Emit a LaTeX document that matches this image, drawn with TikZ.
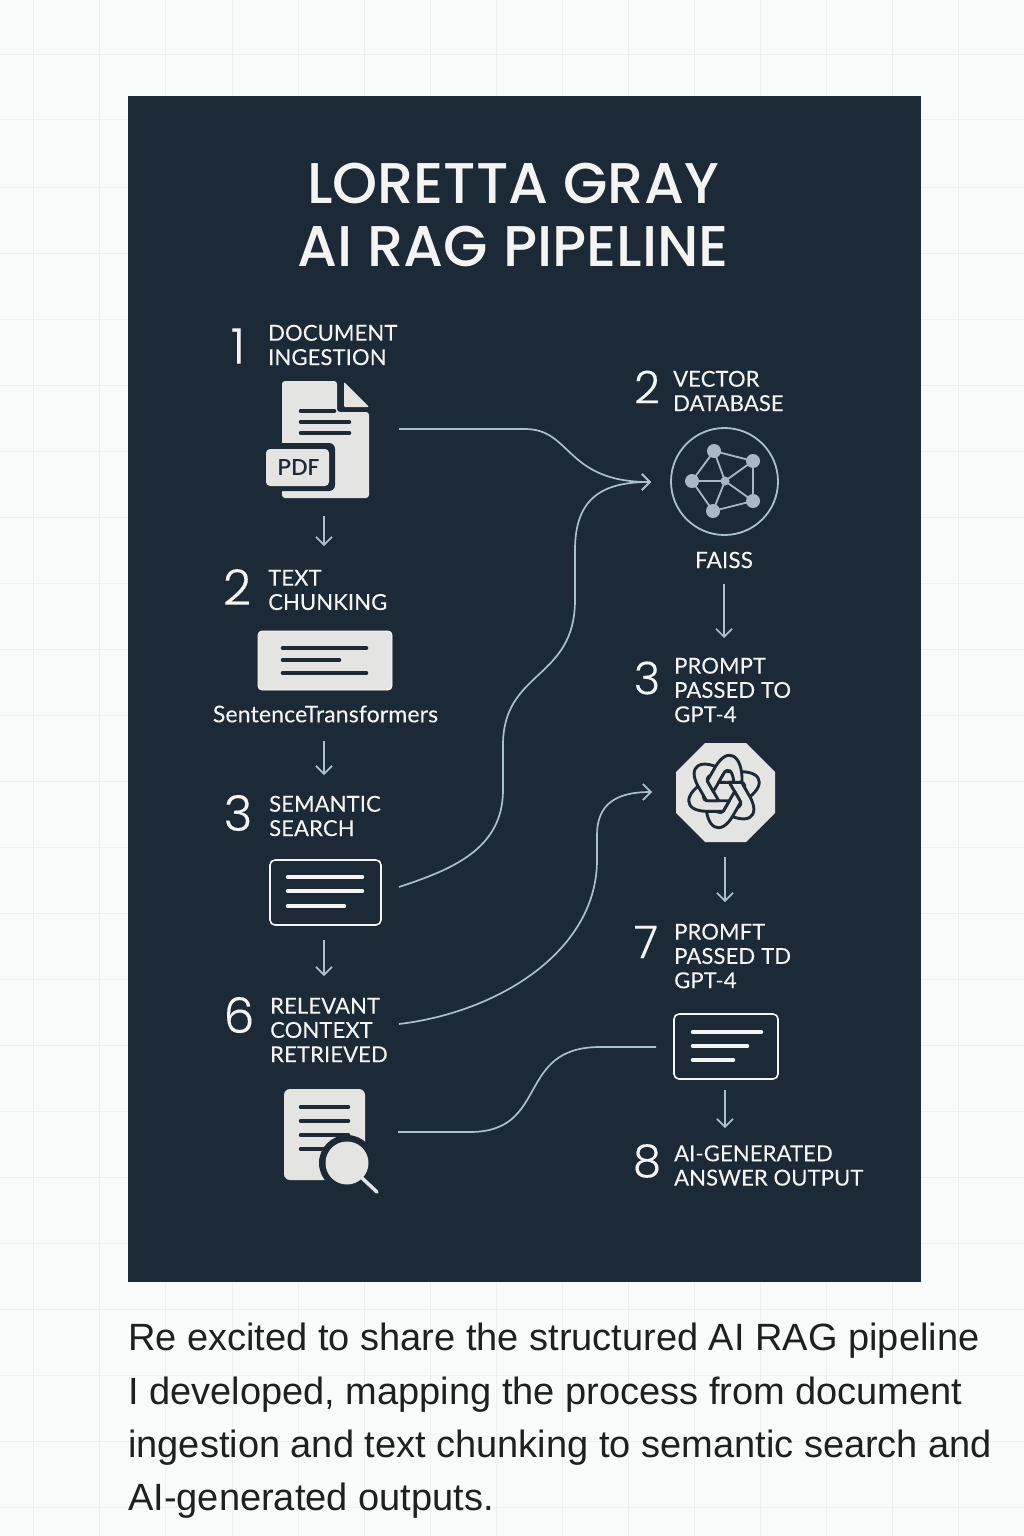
\documentclass[tikz,border=0pt]{standalone}
\usepackage{fontspec}
\setmainfont{Liberation Sans}
\newfontfamily\labelfont[FakeBold=0.12,LetterSpace=0.6]{Lato}
\newfontfamily\titlefont[UprightFont={* Medium}]{Poppins}
\newfontfamily\numfont[UprightFont={* Light},FakeBold=0.2]{Poppins}
\usetikzlibrary{positioning,calc,arrows.meta}
\definecolor{panel}{HTML}{1C2936}
\definecolor{paper}{HTML}{F9FAFA}
\definecolor{gridline}{HTML}{EEF0F0}
\definecolor{sheet}{HTML}{E4E4E3}
\definecolor{wire}{HTML}{A9BFD2}
\definecolor{dot}{HTML}{A9B8C4}
\definecolor{ink}{HTML}{F4F4F3}
\tikzset{>={Straight Barb[length=8pt,width=16pt]}}
\tikzset{
  wirearrow/.style={->,wire,line width=1.7pt},
  wireline/.style={wire,line width=1.7pt},
  stepnum/.style={text=ink,font=\numfont\fontsize{49}{49}\selectfont,inner sep=0pt},
  rightnum/.style={text=ink,font=\numfont\fontsize{45}{45}\selectfont,inner sep=0pt},
  steptext/.style={text=ink,font=\labelfont\fontsize{22}{24.3}\selectfont,align=left,anchor=west,inner sep=0pt},
  barline/.style={line width=4.6pt,line cap=round},
  hubline/.style={dot,line width=1.8pt},
  knotlink/.style={panel,fill=sheet,line width=2.9pt,line join=round},
}
\newcommand{\knotband}{(-4.5,-7.8) -- (0.7,-16.8) -- (14,-16.8) .. controls (35,-16.8) and (35,-2) .. (15,9) -- (9.5,4.5) .. controls (20,-3) and (20,-7.8) .. (12,-7.8) -- cycle}
\begin{document}
\begin{tikzpicture}[x=1pt,y=-1pt]
\useasboundingbox (0,0) rectangle (1024,1536);
\fill[paper] (0,0) rectangle (1024,1536);
\foreach \gx in {33,99,165,232,298,364,430,496,562,628,694,760,826,892,958}
  \draw[gridline,line width=1pt] (\gx,0) -- (\gx,1536);
\foreach \gy in {55,120,187,253,319,385,451,517,583,649,715,781,847,913,979,1045,1111,1177,1243,1309,1375,1441,1507}
  \draw[gridline,line width=1pt] (0,\gy) -- (1024,\gy);
\fill[panel] (128,96) rectangle (921,1282);
% title
\node[text=ink,font=\titlefont\fontsize{57.4}{63}\selectfont,align=center,inner sep=0pt] (title) at (513,215) {LORETTA GRAY\\AI RAG PIPELINE};
% left column
\node[stepnum] (numA) at (238,346) {1};
\node[steptext] (textA) at (268,345) {DOCUMENT\\INGESTION};
\node[stepnum] (numB) at (237,587) {2};
\node[steptext] (textB) at (268,590) {TEXT\\CHUNKING};
\node[stepnum] (numC) at (238,813) {3};
\node[steptext] (textC) at (269,816) {SEMANTIC\\SEARCH};
\node[stepnum] (numF) at (239,1015) {6};
\node[steptext] (textF) at (270,1030) {RELEVANT\\CONTEXT\\RETRIEVED};
% pdf icon
\fill[sheet,rounded corners=3pt] (282,381) -- (337,381) -- (337,412) -- (369,412) -- (369,498) -- (282,498) -- cycle;
\fill[sheet,rounded corners=1pt] (344,382) -- (369,407) -- (344,407) -- cycle;
\draw[panel,barline] (301,411) -- (334,411);
\draw[panel,barline] (301,422) -- (349,422);
\draw[panel,barline] (301,433) -- (349,433);
\fill[panel,rounded corners=6pt] (261,443) rectangle (335,491);
\fill[sheet,rounded corners=4pt] (266,449) rectangle (329,486);
\node[text=panel,font=\titlefont\fontsize{23}{24}\selectfont,inner sep=0pt] (pdf) at (298.5,468) {PDF};
% chunk card
\node[fill=sheet,draw=white,line width=.8pt,rounded corners=4pt,minimum width=134pt,minimum height=59pt,inner sep=0pt] (cardB) at (325,660.5) {};
\draw[panel,barline] (283,648) -- (366,648);
\draw[panel,barline] (283,660) -- (339,660);
\draw[panel,barline] (283,673) -- (366,673);
\node[text=ink,font=\labelfont\fontsize{23}{24}\selectfont,inner sep=0pt] (sent) at (325.5,714) {SentenceTransformers};
% search box
\node[draw=ink,fill=panel,line width=1.6pt,rounded corners=5pt,minimum width=111pt,minimum height=65pt,inner sep=0pt] (boxC) at (325.5,892.5) {};
\draw[ink,barline] (288,877) -- (362,877);
\draw[ink,barline] (288,891) -- (362,891);
\draw[ink,barline] (288,906) -- (344,906);
% retrieved icon
\fill[sheet,rounded corners=6pt] (284,1089) rectangle (365,1180);
\foreach \by/\bx in {1107/348,1121/348,1135/348,1149/330}
  \draw[panel,barline] (301,\by) -- (\bx,\by);
\fill[panel] (347,1163) circle[radius=28];
\fill[sheet] (347,1163) circle[radius=21.5];
\draw[sheet,line width=3.5pt,line cap=round] (362,1178) -- (377,1192);
% left arrows
\coordinate (dA) at (324,516); \coordinate (dAe) at (324,546);
\coordinate (dB) at (324,741); \coordinate (dBe) at (324,775);
\coordinate (dC) at (324,940); \coordinate (dCe) at (324,976);
\draw[wirearrow] (dA) -- (dAe);
\draw[wirearrow] (dB) -- (dBe);
\draw[wirearrow] (dC) -- (dCe);
% right column
\node[rightnum] (numR) at (647,387) {2};
\node[steptext] (textR) at (673,391) {VECTOR\\DATABASE};
\node[draw=wire,line width=1.8pt,circle,minimum size=107pt,inner sep=0pt] (faissring) at (724.5,481.5) {};
\coordinate (na) at (714,451);
\coordinate (nb) at (753,461);
\coordinate (nc) at (692,481);
\coordinate (nd) at (725,481);
\coordinate (ne) at (753,501);
\coordinate (nf) at (713,511);
\draw[hubline] (na) -- (nb) -- (ne) -- (nf) -- (nc) -- (na);
\draw[hubline] (na) -- (nd) -- (nb);
\draw[hubline] (nc) -- (nd) -- (ne);
\draw[hubline] (nd) -- (nf);
\foreach \hub in {na,nb,nc,ne,nf}
  \fill[dot] (\hub) circle[radius=7];
\fill[dot] (nd) circle[radius=4.5];
\node[text=ink,font=\labelfont\fontsize{22.5}{24}\selectfont,inner sep=0pt] (faiss) at (724,560) {FAISS};
\node[rightnum] (numP) at (647,678) {3};
\node[steptext] (textP) at (674,690) {PROMPT\\PASSED TO\\GPT-4};
% octagon
\fill[sheet] (705,743) -- (746,743) -- (775,772) -- (775,813) -- (746,842) -- (705,842) -- (676,813) -- (676,772) -- cycle;
\begin{scope}[shift={(724,791.5)},scale=1.18]
\foreach \ang in {0,-60,...,-300}
  \draw[knotlink,rotate=\ang] \knotband;
\foreach \ang in {-60,0} {
  \begin{scope}[rotate=\ang]
  \clip (-20,-30) rectangle (2,14);
  \draw[knotlink] \knotband;
  \end{scope}
}
\end{scope}
\node[rightnum] (numS) at (646,942) {7};
\node[steptext] (textS) at (674,956) {PROMFT\\PASSED\hspace{6pt}TD\\GPT-4};
\node[draw=ink,fill=panel,line width=1.6pt,rounded corners=5pt,minimum width=104pt,minimum height=65pt,inner sep=0pt] (boxS) at (726,1046.5) {};
\draw[ink,barline] (693,1032) -- (761,1032);
\draw[ink,barline] (693,1046) -- (747,1046);
\draw[ink,barline] (693,1060) -- (733,1060);
\node[rightnum] (numE) at (647,1161) {8};
\node[steptext] (textE) at (674,1165.5) {AI-GENERATED\\ANSWER OUTPUT};
\coordinate (dR) at (724,584); \coordinate (dRe) at (724,638);
\coordinate (dP) at (725,857); \coordinate (dPe) at (725,902);
\coordinate (dS) at (725,1090); \coordinate (dSe) at (725,1128);
\draw[wirearrow] (dR) -- (dRe);
\draw[wirearrow] (dP) -- (dPe);
\draw[wirearrow] (dS) -- (dSe);
% long connectors
\coordinate (fromPdf) at (399,429);
\coordinate (fromSearch) at (399,887);
\coordinate (fromContext) at (399,1024);
\coordinate (fromDoc) at (398,1132);
\coordinate (toFaiss) at (651,482);
\coordinate (toGpt) at (652,792);
\coordinate (toBox) at (656,1047);
\draw[wirearrow] (fromPdf) -- (525,429) .. controls (572,429) and (565,482) .. (toFaiss);
\draw[wirearrow] (fromSearch) .. controls (450,870) and (503,850) .. (503,790) -- (503,745)
  .. controls (503,670) and (575,680) .. (575,600) -- (575,550) .. controls (575,500) and (600,482) .. (toFaiss);
\draw[wirearrow] (fromContext) .. controls (500,1012) and (597,950) .. (597,860) -- (597,835) .. controls (597,805) and (615,792) .. (toGpt);
\draw[wireline] (fromDoc) -- (470,1132) .. controls (550,1132) and (515,1047) .. (600,1047) -- (toBox);
% caption
\node[text=black!88,font=\fontsize{38}{53.4}\selectfont,align=left,anchor=north west,inner sep=0pt] (caption) at (128,1323) {Re excited to share the structured AI RAG pipeline\\I developed, mapping the process from document\\ingestion and text chunking to semantic search and\\AI-generated outputs.};
\end{tikzpicture}
\end{document}
